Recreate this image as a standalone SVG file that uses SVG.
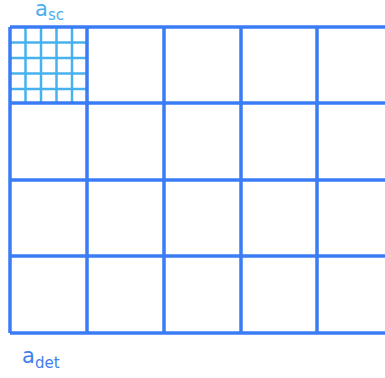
<svg xmlns="http://www.w3.org/2000/svg" width="385" height="378" viewBox="0 0 385 378">
<style>
.g{stroke:#3a7cf6;stroke-width:3.5;fill:none}
.f{stroke:#48b2f0;stroke-width:2.5;fill:none}
.t{font-family:"DejaVu Sans",sans-serif}
</style>
<rect width="385" height="378" fill="#fff"/>
<g id="fine-grid">
<path class="f" d="M25.5,27V103M41,27V103M56.5,27V103M72,27V103M10,42.5H87M10,58H87M10,73.5H87M10,89H87"/>
</g>
<g id="coarse-grid">
<path class="g" d="M10,27H385M10,103H385M10,180H385M10,256H385M10,333H385M10,27V333M87,27V333M164,27V333M241,27V333M317,27V333"/>
</g>
<g id="label-sc">
<text class="t" x="35" y="16" font-size="21" fill="#4aaef0">a<tspan font-size="15" dy="4">sc</tspan></text>
</g>
<g id="label-det">
<text class="t" x="22" y="363" font-size="21" fill="#3f80f0">a<tspan font-size="15" dy="5">det</tspan></text>
</g>
</svg>
